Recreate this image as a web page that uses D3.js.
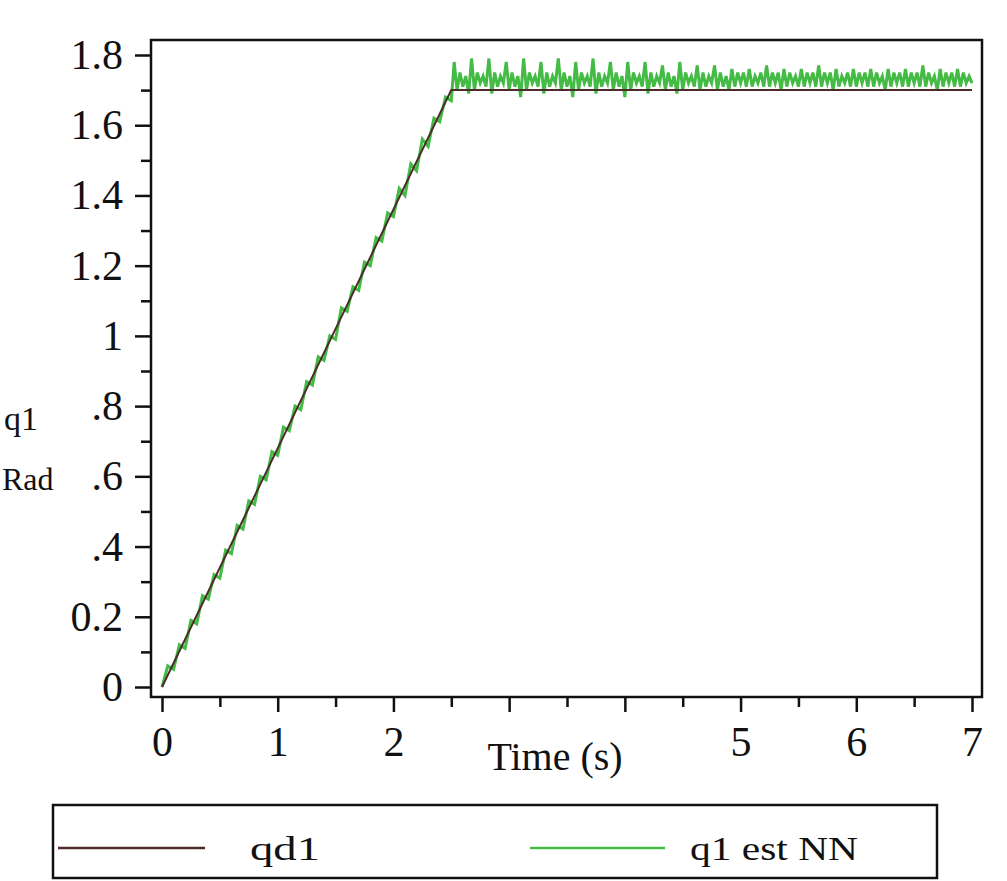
<!DOCTYPE html>
<html>
<head>
<meta charset="utf-8">
<script src="https://cdn.jsdelivr.net/npm/d3@7"></script>
<style>
body { margin: 0; background: #fff; }
text { font-family: "Liberation Serif", "DejaVu Serif", serif; fill: #111; }
</style>
</head>
<body>
<script>
let width = 1007;
let height = 881;

// qd1: desired trajectory (ramp then hold)
let qdTime = [0, 2.5, 7];
let qdValue = [0, 1.7, 1.7];

// q1 est NN during the ramp, every 0.05 s from 0 to 2.5
let rampStep = 0.05;
let rampValue = [
  0.00, 0.06, 0.05, 0.12, 0.11, 0.19, 0.18, 0.26, 0.25, 0.32,
  0.31, 0.39, 0.38, 0.46, 0.45, 0.53, 0.52, 0.60, 0.59, 0.67,
  0.66, 0.74, 0.73, 0.80, 0.79, 0.87, 0.86, 0.94, 0.93, 1.00,
  0.99, 1.08, 1.07, 1.14, 1.13, 1.21, 1.20, 1.28, 1.27, 1.35,
  1.34, 1.42, 1.40, 1.49, 1.47, 1.56, 1.54, 1.62, 1.61, 1.68,
  1.67
];
// q1 est NN during the hold, every 0.025 s from 2.525 to 7
let holdStart = 2.525;
let holdStep = 0.025;
let holdValue = [
  1.78, 1.70, 1.75, 1.71, 1.74, 1.69,  1.79, 1.70, 1.75, 1.72, 1.74, 1.71,
  1.79, 1.69, 1.75, 1.71, 1.74, 1.72,  1.78, 1.70, 1.75, 1.71, 1.74, 1.68,
  1.79, 1.70, 1.75, 1.72, 1.74, 1.71,  1.78, 1.69, 1.75, 1.71, 1.74, 1.72,
  1.79, 1.70, 1.75, 1.71, 1.74, 1.68,  1.78, 1.70, 1.75, 1.72, 1.74, 1.71,
  1.79, 1.69, 1.75, 1.71, 1.74, 1.72,  1.78, 1.70, 1.75, 1.71, 1.74, 1.68,
  1.78, 1.70, 1.75, 1.72, 1.74, 1.71,  1.78, 1.69, 1.75, 1.71, 1.74, 1.72,
  1.77, 1.70, 1.75, 1.71, 1.74, 1.69,  1.78, 1.70, 1.75, 1.72, 1.74, 1.71,
  1.77, 1.70, 1.75, 1.71, 1.74, 1.72,  1.77, 1.70, 1.75, 1.71, 1.74, 1.70,
  1.76, 1.71, 1.75, 1.72, 1.75, 1.71,  1.76, 1.71, 1.74, 1.72, 1.75, 1.71,
  1.77, 1.71, 1.75, 1.72, 1.75, 1.70,  1.76, 1.71, 1.75, 1.72, 1.74, 1.71,
  1.76, 1.71, 1.75, 1.72, 1.75, 1.71,  1.77, 1.71, 1.75, 1.72, 1.75, 1.70,
  1.76, 1.71, 1.74, 1.72, 1.75, 1.71,  1.76, 1.71, 1.75, 1.72, 1.75, 1.71,
  1.76, 1.71, 1.75, 1.72, 1.74, 1.70,  1.76, 1.71, 1.75, 1.72, 1.75, 1.71,
  1.76, 1.71, 1.75, 1.72, 1.75, 1.71,  1.77, 1.71, 1.75, 1.72, 1.74, 1.70,
  1.76, 1.71, 1.75, 1.72, 1.75, 1.71,  1.76, 1.71, 1.75, 1.72, 1.74, 1.72
];
let estTime = rampValue.map((v, i) => i * rampStep)
  .concat(holdValue.map((v, i) => holdStart + i * holdStep));
let estValue = rampValue.concat(holdValue);

let xTicks = [0, 1, 2, 3, 4, 5, 6, 7];
let xTickLabels = ["0", "1", "2", "", "", "5", "6", "7"]; // 3 and 4 lie under "Time (s)"
let xMinor = [0.5, 1.5, 2.5, 3.5, 4.5, 5.5, 6.5];
let yTicks = [0, 0.2, 0.4, 0.6, 0.8, 1, 1.2, 1.4, 1.6, 1.8];
let yTickLabels = ["0", "0.2", ".4", ".6", ".8", "1", "1.2", "1.4", "1.6", "1.8"];
let yMinor = [0.1, 0.3, 0.5, 0.7, 0.9, 1.1, 1.3, 1.5, 1.7];

let legendNames = ["qd1", "q1 est NN"];
let colors = ["#4d2b2b", "#44bb44"];

let svg = d3.select("body").append("svg").attr("width", width).attr("height", height);

let x = d3.scaleLinear().domain([0, 7]).range([162, 972]);
let y = d3.scaleLinear().domain([0, 1.8]).range([687, 55]);

// frame
let frameLeft = 151, frameRight = 982, frameTop = 40, frameBottom = 697;
svg.append("rect")
  .attr("x", frameLeft).attr("y", frameTop)
  .attr("width", frameRight - frameLeft).attr("height", frameBottom - frameTop)
  .attr("fill", "none").attr("stroke", "#111").attr("stroke-width", 2.5);

// lines
let line = d3.line().x(d => x(d[0])).y(d => y(d[1]));
svg.append("path")
  .datum(d3.zip(estTime, estValue))
  .attr("d", line)
  .attr("fill", "none").attr("stroke", colors[1]).attr("stroke-width", 3);
svg.append("path")
  .datum(d3.zip(qdTime, qdValue))
  .attr("d", line)
  .attr("fill", "none").attr("stroke", colors[0]).attr("stroke-width", 2);

// x axis
let xAxis = svg.append("g").attr("transform", `translate(0,${frameBottom})`)
  .call(d3.axisBottom(x).tickValues(xTicks).tickSize(15).tickPadding(14)
    .tickFormat((d, i) => xTickLabels[i]));
xAxis.select(".domain").remove();
xAxis.selectAll("line").attr("stroke", "#111").attr("stroke-width", 2.5);
xAxis.selectAll("text").style("font-size", "42px").attr("fill", "#111");
svg.append("g").attr("transform", `translate(0,${frameBottom})`)
  .call(d3.axisBottom(x).tickValues(xMinor).tickSize(10).tickFormat(""))
  .call(g => g.select(".domain").remove())
  .selectAll("line").attr("stroke", "#111").attr("stroke-width", 2.5);

// y axis
let yAxis = svg.append("g").attr("transform", `translate(${frameLeft},0)`)
  .call(d3.axisLeft(y).tickValues(yTicks).tickSize(16).tickPadding(12)
    .tickFormat((d, i) => yTickLabels[i]));
yAxis.select(".domain").remove();
yAxis.selectAll("line").attr("stroke", "#111").attr("stroke-width", 2.5);
yAxis.selectAll("text").style("font-size", "42px").attr("fill", "#111");
svg.append("g").attr("transform", `translate(${frameLeft},0)`)
  .call(d3.axisLeft(y).tickValues(yMinor).tickSize(10).tickFormat(""))
  .call(g => g.select(".domain").remove())
  .selectAll("line").attr("stroke", "#111").attr("stroke-width", 2.5);

// x label
svg.append("text").attr("x", 555).attr("y", 770).attr("text-anchor", "middle")
  .style("font-size", "40px").text("Time (s)");

// y label
svg.append("text").attr("x", 4).attr("y", 430).style("font-size", "34px").text("q1");
svg.append("text").attr("x", 2).attr("y", 490).style("font-size", "32px").text("Rad");

// legend
svg.append("rect")
  .attr("x", 53).attr("y", 805).attr("width", 884).attr("height", 73)
  .attr("fill", "#fff").attr("stroke", "#111").attr("stroke-width", 2.5);
let legendX = [[58, 205, 250, 70], [530, 665, 690, 168]];
legendNames.forEach((name, i) => {
  svg.append("line")
    .attr("x1", legendX[i][0]).attr("x2", legendX[i][1])
    .attr("y1", 848).attr("y2", 848)
    .attr("stroke", colors[i]).attr("stroke-width", 2.5);
  svg.append("text").attr("x", legendX[i][2]).attr("y", 860)
    .attr("textLength", legendX[i][3]).attr("lengthAdjust", "spacingAndGlyphs")
    .style("font-size", "34px").text(name);
});
</script>
</body>
</html>
